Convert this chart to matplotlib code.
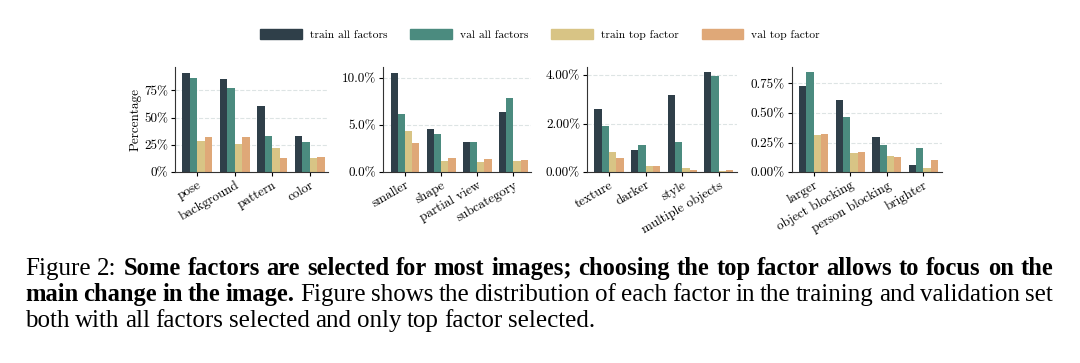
import numpy as np
import matplotlib
matplotlib.use("Agg")
import matplotlib.pyplot as plt
from matplotlib.ticker import FuncFormatter
from matplotlib.patches import Patch

# 데이터 (그림에서 읽은 값, 단위 %)
series_names = ["train all factors", "val all factors", "train top factor", "val top factor"]
colors = ["#2f3f49", "#4b8b7f", "#d8c485", "#dfa878"]

cats1 = ["pose", "background", "pattern", "color"]
train_all1 = [91.2, 85.1, 60.6, 33.0]
val_all1 = [86.3, 76.8, 33.0, 27.9]
train_top1 = [28.2, 25.4, 22.0, 12.9]
val_top1 = [32.4, 31.8, 12.9, 13.5]

cats2 = ["smaller", "shape", "partial view", "subcategory"]
train_all2 = [10.5, 4.56, 3.19, 6.35]
val_all2 = [6.18, 4.07, 3.19, 7.79]
train_top2 = [4.35, 1.12, 1.02, 1.16]
val_top2 = [3.09, 1.50, 1.37, 1.30]

cats3 = ["texture", "darker", "style", "multiple objects"]
train_all3 = [2.62, 0.89, 3.19, 4.11]
val_all3 = [1.90, 1.10, 1.26, 3.97]
train_top3 = [0.84, 0.23, 0.16, 0.05]
val_top3 = [0.60, 0.27, 0.08, 0.08]

cats4 = ["larger", "object blocking", "person blocking", "brighter"]
train_all4 = [0.727, 0.612, 0.300, 0.059]
val_all4 = [0.843, 0.466, 0.228, 0.205]
train_top4 = [0.312, 0.160, 0.140, 0.034]
val_top4 = [0.326, 0.169, 0.129, 0.100]

panels = [
    (cats1, [train_all1, val_all1, train_top1, val_top1], [0, 25, 50, 75], 96.4, 0),
    (cats2, [train_all2, val_all2, train_top2, val_top2], [0, 5, 10], 11.1, 1),
    (cats3, [train_all3, val_all3, train_top3, val_top3], [0, 2, 4], 4.33, 2),
    (cats4, [train_all4, val_all4, train_top4, val_top4], [0, 0.25, 0.5, 0.75], 0.888, 2),
]

plt.rcParams['font.family'] = ['cmr10', 'DejaVu Serif']
plt.rcParams['axes.unicode_minus'] = False
plt.rcParams['axes.formatter.use_mathtext'] = False

fig = plt.figure(figsize=(10.8, 3.63), dpi=100)

lefts = [0.162, 0.355, 0.5435, 0.733]
widths = [0.142, 0.137, 0.139, 0.139]
bw = 0.2

for i, (cats, vals, ticks, top, dec) in enumerate(panels):
    ax = fig.add_axes([lefts[i], 0.526, widths[i], 0.289])
    x = np.arange(len(cats))
    for k, v in enumerate(vals):
        ax.bar(x - 0.3 + k * bw, v, width=bw, color=colors[k], linewidth=0)
    ax.set_xlim(-0.6, 3.5)
    ax.set_ylim(0, top)
    ax.set_yticks(ticks)
    ax.yaxis.set_major_formatter(FuncFormatter(lambda t, p, d=dec: f"{t:.{d}f}%"))
    ax.set_xticks(x)
    ax.set_xticklabels(cats, rotation=30, ha='right', rotation_mode='anchor')
    for t in ticks[1:]:
        ax.axhline(t, color='#dde4e4', linestyle='--', linewidth=0.8, zorder=0)
    ax.spines['top'].set_visible(False)
    ax.spines['right'].set_visible(False)
    ax.spines['left'].set_color('#333333')
    ax.spines['bottom'].set_color('#333333')
    ax.tick_params(labelsize=9.5, length=3, width=0.8, pad=2)
    if i == 0:
        ax.set_ylabel("Percentage", fontsize=9.5, labelpad=2)

handles = [Patch(color=c) for c in colors]
fig.legend(handles, series_names, loc='center', bbox_to_anchor=(0.5, 0.905), ncol=4,
           frameon=False, fontsize=8.3, handlelength=3.6, handleheight=0.9,
           handletextpad=0.7, columnspacing=2.0)

# 캡션 (LaTeX처럼 양쪽 정렬)
sizes = {'normal': 18.0, 'bold': 17.7}
fig.canvas.draw()
r = fig.canvas.get_renderer()
x0, x1 = 25 / 1080, 1053 / 1080

def line(parts, y, justify=True):
    words = []
    for txt, wt in parts:
        words += [(w, wt) for w in txt.split()]
    arts, total = [], 0
    for w, wt in words:
        t = fig.text(0, y, w, fontweight=wt, family='Liberation Serif',
                     fontsize=sizes[wt], va='baseline', ha='left')
        wd = t.get_window_extent(renderer=r).width / fig.bbox.width
        arts.append((t, wd))
        total += wd
    if justify:
        gap = (x1 - x0 - total) / (len(arts) - 1)
    else:
        gap = 5.5 / 1080
    x = x0
    for t, wd in arts:
        t.set_x(x)
        x += wd + gap

line([("Figure 2:", 'normal'),
      ("Some factors are selected for most images; choosing the top factor allows to focus on the", 'bold')],
     1 - 275 / 363)
line([("main change in the image.", 'bold'),
      ("Figure shows the distribution of each factor in the training and validation set", 'normal')],
     1 - 301 / 363)
line([("both with all factors selected and only top factor selected.", 'normal')],
     1 - 327 / 363, justify=False)

fig.savefig("out.png", dpi=100, facecolor='white')
